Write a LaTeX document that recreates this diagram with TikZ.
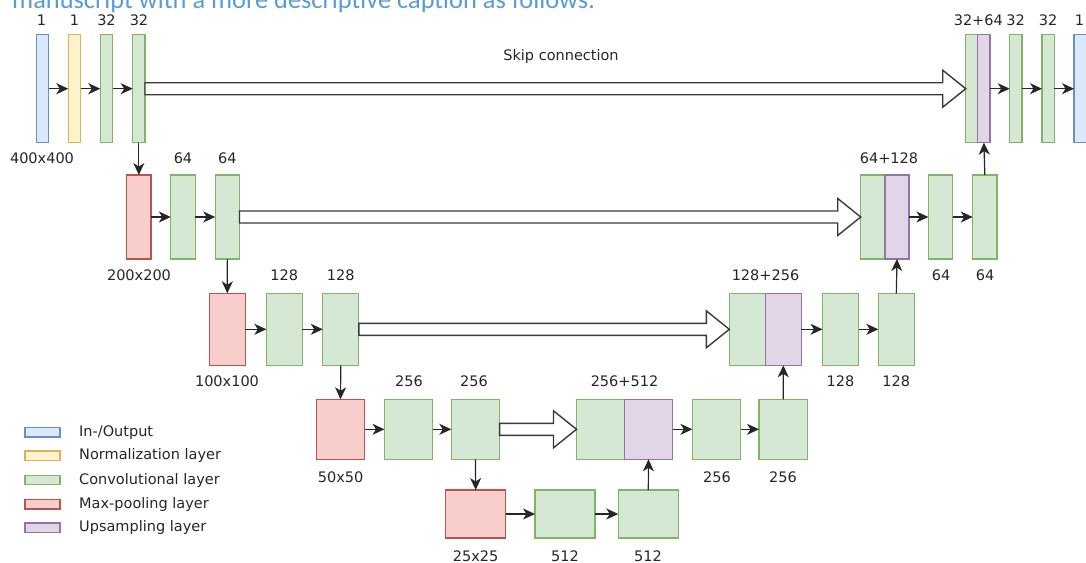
\documentclass[tikz,border=0pt]{standalone}
\usepackage{fontspec}
\setmainfont{DejaVu Sans}
\newfontfamily\capfont{Carlito}
\usetikzlibrary{arrows.meta,calc}

% layer colours
\definecolor{ioF}{HTML}{DAE8FC}\definecolor{ioD}{HTML}{6C8EBF}
\definecolor{nmF}{HTML}{FFF2CC}\definecolor{nmD}{HTML}{D6B656}
\definecolor{cvF}{HTML}{D5E8D4}\definecolor{cvD}{HTML}{82B366}
\definecolor{plF}{HTML}{F8CECC}\definecolor{plD}{HTML}{B85450}
\definecolor{upF}{HTML}{E1D5E7}\definecolor{upD}{HTML}{9673A6}
\definecolor{txtC}{HTML}{262626}
\definecolor{lineC}{HTML}{262626}
\definecolor{skipC}{HTML}{3A3A3A}
\definecolor{capC}{HTML}{5B9BD5}

\tikzset{
  blk/.style={draw, line width=1.2pt, inner sep=0pt, outer sep=0pt, anchor=north west},
  io/.style={blk, fill=ioF, draw=ioD},
  norm/.style={blk, fill=nmF, draw=nmD},
  conv/.style={blk, fill=cvF, draw=cvD},
  pool/.style={blk, fill=plF, draw=plD},
  upsm/.style={blk, fill=upF, draw=upD},
  conn/.style={draw=lineC, line width=1.2pt, -{Stealth[length=12pt 0 0,width=11pt 0,inset=3.5pt 0]}},
  skiparrow/.style={draw=skipC, line width=1.4pt, fill=white, line join=miter},
  lbl/.style={text=txtC, font=\fontsize{14.5}{17}\selectfont, inner sep=0pt},
  swatch/.style={draw, line width=1.2pt, minimum width=35pt, minimum height=9.5pt, inner sep=0pt},
}

% \blk{name}{style}{left}{top}{width}{height}
\newcommand\blk[6]{\node[#2, minimum width=#5, minimum height=#6] (#1) at (#3,#4) {};}
% \skipto{from}{to}: hollow arrow carrying features across the U
\newcommand\skipto[2]{%
  \draw[skiparrow] ([yshift=6pt]#1.east) -- ([xshift=-23pt,yshift=6pt]#2.west)
    -- ([xshift=-23pt,yshift=18.5pt]#2.west) -- (#2.west)
    -- ([xshift=-23pt,yshift=-18.5pt]#2.west) -- ([xshift=-23pt,yshift=-6pt]#2.west)
    -- ([yshift=-6pt]#1.east) -- cycle;}

\begin{document}
\begin{tikzpicture}[x=1pt,y=-1pt]
\useasboundingbox (0,0) rectangle (1086,562);
\clip (0,0) rectangle (1086,562);

% running text above the figure
\node[anchor=base west, inner sep=0pt, text=capC, font=\capfont\fontsize{26.4}{30}\selectfont]
  (caption) at (12,9) {manuscript with a more descriptive caption as follows:};

% ---- level 0 (400x400) ----
\blk{inp}{io}{36.3}{34.7}{12.3}{108}
\blk{nrm}{norm}{68.3}{34.7}{12.3}{108}
\blk{ca}{conv}{100.3}{34.7}{12.3}{108}
\blk{cb}{conv}{132.7}{34.7}{12.3}{108}
\blk{ka}{conv}{965.7}{34.7}{12}{108}
\blk{ua}{upsm}{977.7}{34.7}{12.3}{108}
\blk{cc}{conv}{1009.7}{34.7}{12.3}{108}
\blk{cd}{conv}{1042}{34.7}{12.3}{108}
\blk{out}{io}{1074}{34.7}{12.3}{108}

% ---- level 1 (200x200) ----
\blk{pa}{pool}{126.7}{175}{24.3}{84}
\blk{da}{conv}{170.8}{175}{24.6}{84}
\blk{db}{conv}{215.2}{175}{24.3}{84}
\blk{kb}{conv}{860.7}{175}{24.3}{84}
\blk{ub}{upsm}{885}{175}{24}{84}
\blk{dc}{conv}{928.4}{175}{24.3}{84}
\blk{dd}{conv}{972.7}{175}{24.3}{84}

% ---- level 2 (100x100) ----
\blk{pb}{pool}{209.3}{293.3}{36}{72}
\blk{ea}{conv}{266.3}{293.3}{36}{72}
\blk{eb}{conv}{322.8}{293.3}{36}{72}
\blk{kc}{conv}{729.3}{293.3}{36}{72}
\blk{uc}{upsm}{765.3}{293.3}{36}{72}
\blk{ec}{conv}{822.5}{293.3}{36}{72}
\blk{ed}{conv}{878.3}{293.3}{36}{72}

% ---- level 3 (50x50) ----
\blk{pc}{pool}{316.5}{399.3}{48}{60}
\blk{fa}{conv}{384.5}{399.3}{48}{60}
\blk{fb}{conv}{451.3}{399.3}{48.3}{60}
\blk{kd}{conv}{576.5}{399.3}{48}{60}
\blk{ud}{upsm}{624.5}{399.3}{48}{60}
\blk{fc}{conv}{692.4}{399.3}{48.3}{60}
\blk{fd}{conv}{759}{399.3}{48.3}{60}

% ---- level 4 (25x25) ----
\blk{pd}{pool}{445.7}{490}{60}{48}
\blk{ga}{conv}{535}{490}{60}{48}
\blk{gb}{conv}{618.3}{490}{60}{48}

% skip connections
\skipto{cb}{ka}
\skipto{db}{kb}
\skipto{eb}{kc}
\skipto{fb}{kd}
\node[lbl] (skiplbl) at (561,56) {Skip connection};

% horizontal flow
\draw[conn] (inp) -- (nrm);
\draw[conn] (nrm) -- (ca);
\draw[conn] (ca) -- (cb);
\draw[conn] (ua) -- (cc);
\draw[conn] (cc) -- (cd);
\draw[conn] (cd) -- (out);
\draw[conn] (pa) -- (da);
\draw[conn] (da) -- (db);
\draw[conn] (ub) -- (dc);
\draw[conn] (dc) -- (dd);
\draw[conn] (pb) -- (ea);
\draw[conn] (ea) -- (eb);
\draw[conn] (uc) -- (ec);
\draw[conn] (ec) -- (ed);
\draw[conn] (pc) -- (fa);
\draw[conn] (fa) -- (fb);
\draw[conn] (ud) -- (fc);
\draw[conn] (fc) -- (fd);
\draw[conn] (pd) -- (ga);
\draw[conn] (ga) -- (gb);

% downsampling path
\draw[conn] (cb.south) -- (pa.north);
\draw[conn] (db.south) -- (pb.north);
\draw[conn] (eb.south) -- (pc.north);
\draw[conn] (fb.south) -- (pd.north);

% upsampling path
\draw[conn] (gb.north) -- (ud.south);
\draw[conn] (fd.north) -- (uc.south);
\draw[conn] (ed.north) -- (ub.south);
\draw[conn] (dd.north) -- (ua.south);

% channel counts and resolutions
\node[lbl] (l0a) at (41.5,20.5) {1};
\node[lbl] (l0b) at (74.5,20.5) {1};
\node[lbl] (l0c) at (106.5,20.5) {32};
\node[lbl] (l0d) at (139,20.5) {32};
\node[lbl] (l0e) at (978.3,20.5) {32+64};
\node[lbl] (l0f) at (1015.7,20.5) {32};
\node[lbl] (l0g) at (1048,20.5) {32};
\node[lbl] (l0h) at (1079.5,20.5) {1};
\node[lbl] (r0) at (42,158) {400x400};

\node[lbl] (l1a) at (183,158) {64};
\node[lbl] (l1b) at (227.3,158) {64};
\node[lbl] (l1c) at (889,158) {64+128};
\node[lbl] (r1) at (139,275) {200x200};
\node[lbl] (l1d) at (941,275.5) {64};
\node[lbl] (l1e) at (985,275.5) {64};

\node[lbl] (l2a) at (284.3,275) {128};
\node[lbl] (l2b) at (340.8,275) {128};
\node[lbl] (l2c) at (765.5,275) {128+256};
\node[lbl] (r2) at (227,381.7) {100x100};
\node[lbl] (l2d) at (840.5,381.7) {128};
\node[lbl] (l2e) at (896.3,381.7) {128};

\node[lbl] (l3a) at (409,381.7) {256};
\node[lbl] (l3b) at (474,381.7) {256};
\node[lbl] (l3c) at (624.5,381.7) {256+512};
\node[lbl] (r3) at (340.7,477.5) {50x50};
\node[lbl] (l3d) at (717,477.5) {256};
\node[lbl] (l3e) at (783,477.5) {256};

\node[lbl] (r4) at (475.7,556) {25x25};
\node[lbl] (l4a) at (565,556) {512};
\node[lbl] (l4b) at (648,556) {512};

% legend
\node[swatch, fill=ioF, draw=ioD] (sw1) at (42.5,432.3) {};
\node[swatch, fill=nmF, draw=nmD] (sw2) at (42.5,455.7) {};
\node[swatch, fill=cvF, draw=cvD] (sw3) at (42.5,480) {};
\node[swatch, fill=plF, draw=plD] (sw4) at (42.5,504.3) {};
\node[swatch, fill=upF, draw=upD] (sw5) at (42.5,527.7) {};
\node[lbl, anchor=west] (lg1) at (79,432.3) {In-/Output};
\node[lbl, anchor=west] (lg2) at (79,455.7) {Normalization layer};
\node[lbl, anchor=west] (lg3) at (79,480) {Convolutional layer};
\node[lbl, anchor=west] (lg4) at (79,504.3) {Max-pooling layer};
\node[lbl, anchor=west] (lg5) at (79,527.7) {Upsampling layer};
\end{tikzpicture}
\end{document}
